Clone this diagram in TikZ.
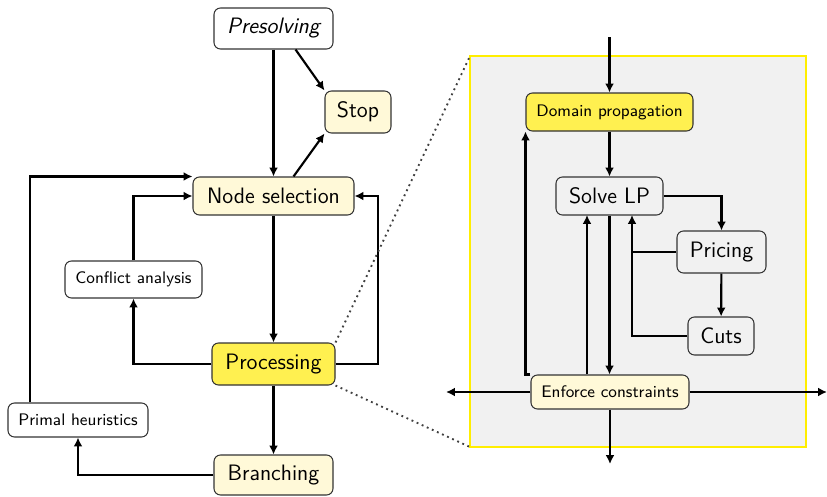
\documentclass[tikz,border=0pt]{standalone}
\usetikzlibrary{arrows.meta}
\definecolor{lightyel}{HTML}{FFF9D8}
\definecolor{strongyel}{HTML}{FFF050}
\definecolor{panelgray}{HTML}{F1F1F1}
\definecolor{panelborder}{HTML}{FFEE00}
\begin{document}
\begin{tikzpicture}[x=0.538pt,y=-0.538pt,
  box/.style={draw=black!80,line width=0.55pt,rounded corners=3.5pt,inner sep=0pt,font=\sffamily\fontsize{12}{14}\selectfont},
  bigbox/.style={box,font=\sffamily\fontsize{12}{14}\selectfont},
  smallbox/.style={box,font=\sffamily\fontsize{9}{11}\selectfont},
  arr/.style={-{Latex[length=4.8pt,width=4.8pt]},line width=1.15pt},
  ln/.style={line width=1.15pt},
  dots/.style={dotted,line width=1pt,black!75}]
\useasboundingbox (0,0) rectangle (827,496);
% panel
\fill[panelgray,draw=panelborder,line width=1.1pt] (470,56) rectangle (806,447);
% left nodes
\node[bigbox,fill=white,minimum width=119*0.538pt,minimum height=41*0.538pt] (pre) at (273.5,28.5) {\itshape Presolving};
\node[bigbox,fill=lightyel,minimum width=66*0.538pt,minimum height=42*0.538pt] (stop) at (358,112) {Stop};
\node[bigbox,fill=lightyel,minimum width=161*0.538pt,minimum height=38*0.538pt] (nsel) at (273.5,196) {Node selection};
\node[smallbox,fill=white,minimum width=137*0.538pt,minimum height=37*0.538pt] (conf) at (133.5,279.5) {Conflict analysis};
\node[bigbox,fill=strongyel,minimum width=123*0.538pt,minimum height=42*0.538pt] (proc) at (273.5,364) {Processing};
\node[smallbox,fill=white,minimum width=140*0.538pt,minimum height=34*0.538pt] (prim) at (78,420) {Primal heuristics};
\node[bigbox,fill=lightyel,minimum width=119*0.538pt,minimum height=40*0.538pt] (bran) at (273.5,475) {Branching};
% right nodes
\node[smallbox,fill=strongyel,minimum width=167*0.538pt,minimum height=38*0.538pt] (dom) at (609.5,112) {Domain propagation};
\node[bigbox,fill=panelgray,minimum width=107*0.538pt,minimum height=38*0.538pt] (lp) at (609.5,196) {Solve LP};
\node[bigbox,fill=panelgray,minimum width=89*0.538pt,minimum height=42*0.538pt] (pric) at (721.5,252) {Pricing};
\node[bigbox,fill=panelgray,minimum width=66*0.538pt,minimum height=38*0.538pt] (cuts) at (721,336) {Cuts};
\node[smallbox,fill=lightyel,minimum width=158*0.538pt,minimum height=34*0.538pt] (enf) at (610,392) {Enforce constraints};
\coordinate (top) at (609.5,37);
\coordinate (left) at (446,392);
\coordinate (right) at (827,392);
\coordinate (bottom) at (610,464);
% left arrows
\draw[arr] (pre) -- (nsel);
\draw[arr] (pre.south east) ++(-38*0.538pt,0) -- (stop.north west);
\draw[arr] (nsel.north east) ++(-61*0.538pt,0) -- (stop.south west);
\draw[arr] (nsel) -- (proc);
\draw[arr] (proc.west) -| (conf.south);
\draw[arr] (conf.north) |- (nsel.west);
\draw[arr] (prim.north -| 30,0) |- (nsel.north west);
\draw[arr] (proc.east) -| (378,230) |- (nsel.east);
\draw[arr] (proc) -- (bran);
\draw[arr] (bran.west) -| (prim.south);
% dotted zoom lines
\draw[dots] (proc.north east) -- (470,56);
\draw[dots] (proc.south east) -- (470,447);
% right arrows
\draw[arr] (top) -- (dom);
\draw[arr] (dom) -- (lp);
\draw[arr] (lp.east) -| (pric.north);
\draw[arr] (pric) -- (cuts);
\draw[ln] (pric.west) -- (632,252);
\draw[arr] (cuts.west) -| (632,215);
\draw[arr] (lp.south) -- (lp.south |- enf.north);
\draw[arr] (enf.north -| 587,0) -- (587,215);
\draw[arr] (enf.north west) -| (dom.south west);
\draw[arr] (enf.west) -- (left);
\draw[arr] (enf.east) -- (right);
\draw[arr] (enf.south) -- (bottom);
\end{tikzpicture}
\end{document}
